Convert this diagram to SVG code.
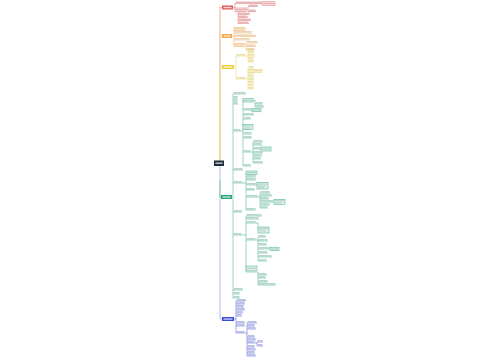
<svg xmlns="http://www.w3.org/2000/svg" width="500" height="360" viewBox="0 0 500 360">
<style>
.c{fill:none;stroke-width:.5}
.r{stroke:#e36464}.o{stroke:#f2a955}.y{stroke:#e6cf45}.g{stroke:#36ad80}.b{stroke:#4a59d4}
.tk{fill:none;stroke-width:1.2}
.tr{fill:#e2b0b0}.to{fill:#e9cfb0}.ty{fill:#e3dcae}.tg{fill:#b5d2c4}.tb{fill:#b4b8e0}.tw{fill:#ffffff;opacity:.75}
.br{fill:#fdeaea;stroke:#e36464;stroke-width:.5}
.bo{fill:#fff3e2;stroke:#f2a955;stroke-width:.5}
.by{fill:#fdf8dc;stroke:#e6cf45;stroke-width:.5}
.bg{fill:#e2f4ec;stroke:#36ad80;stroke-width:.5}
</style>
<rect width="500" height="360" fill="#ffffff"/>
<g id="connectors">
<path class="tk" stroke="#f0b8a8" d="M220 161V7.5H222"/>
<path class="tk" stroke="#f3cfa0" d="M220 161V36H222"/>
<path class="tk" stroke="#f0d9a8" d="M220 161V67H222"/>
<path class="tk" stroke="#c4c8ee" d="M220 166V319H222"/>
<path class="tk" stroke="#8fd0b4" d="M220 180V197H221"/>
<path class="c r" d="M233 7.5H235M235 3.5V10M246 9.75H248M248 6.5V11.5M238 11.5V23.5"/>
<path class="c o" d="M232 36H234M234 29V45M244 45H246M246 43V50"/>
<path class="c y" d="M234 67H236M236 56V79M246 56H248M248 50V62M246 79H248M248 68V89"/>
<path class="c g" d="M232 197H233M233 94V298"/>
<path class="c g" d="M241 131H243M243 100V166M253 100.2H255V107M251 152H253M253 142V163"/>
<path class="c g" d="M243 183H246M246 173V210M258 197H260M260 193V208"/>
<path class="c g" d="M242 235H246M246 216V272M256 223H258V230M256 240H258M258 237V261M256 272H258M258 272V285"/>
<path class="c b" d="M234 319H236M236 301V333M245 333H247M247 323V356M255 343H257M257 342V346"/>
</g>
<g id="root"><rect x="214" y="160.5" width="10" height="5.5" fill="#1f2d3d"/><rect class="tw" x="215.5" y="162.5" width="7" height="1.4"/></g>

<g id="red">
<g id="r0"><rect x="222" y="5.5" width="11" height="4" fill="#e15b5b"/><rect class="tw" x="223.5" y="6.9" width="8" height="1.3"/></g>
<g id="r1"><rect class="tr" x="235.5" y="1.6" width="26" height="1.3"/><path class="c r" d="M235 3.5h27"/></g>
<g id="r1b"><rect class="br" x="262" y="1.8" width="13" height="3.4"/><rect class="tr" x="263" y="2.8" width="11" height="1.3"/></g>
<g id="r2"><rect class="br" x="235" y="8" width="11" height="3.5"/><rect class="tr" x="236" y="9.1" width="9" height="1.3"/></g>
<g id="r2a"><rect class="tr" x="248.5" y="4.6" width="9" height="1.3"/><path class="c r" d="M248 6.5h10"/></g>
<g id="r2b"><rect class="tr" x="248.5" y="9.6" width="7" height="1.3"/><path class="c r" d="M248 11.5h8"/></g>
<g id="r2c"><rect class="tr" x="238.5" y="12.6" width="11" height="1.3"/><path class="c r" d="M238 14.5h12"/></g>
<g id="r2d"><rect class="tr" x="238.5" y="15.6" width="9" height="1.3"/><path class="c r" d="M238 17.5h10"/></g>
<g id="r2e"><rect class="tr" x="238.5" y="18.6" width="12" height="1.3"/><path class="c r" d="M238 20.5h13"/></g>
<g id="r2f"><rect class="tr" x="238.5" y="21.6" width="10" height="1.3"/><path class="c r" d="M238 23.5h11"/></g>
</g>

<g id="orange">
<g id="o0"><rect x="222" y="34" width="10" height="4" fill="#f2a54a"/><rect class="tw" x="223.5" y="35.4" width="7" height="1.3"/></g>
<g id="o1"><rect class="bo" x="234" y="27.3" width="11" height="3.5"/><rect class="to" x="235" y="28.4" width="9" height="1.3"/></g>
<g id="o2"><rect class="to" x="234.5" y="31.1" width="17" height="1.3"/><path class="c o" d="M234 33h18"/></g>
<g id="o3"><rect class="to" x="234.5" y="34.6" width="21" height="1.3"/><path class="c o" d="M234 36.5h22"/></g>
<g id="o4"><rect class="to" x="234.5" y="38.1" width="15" height="1.3"/><path class="c o" d="M234 40h16"/></g>
<g id="o5"><rect class="bo" x="234" y="43.3" width="10" height="3.5"/><rect class="to" x="235" y="44.4" width="8" height="1.3"/></g>
<g id="o5a"><rect class="to" x="246.5" y="41.1" width="11" height="1.3"/><path class="c o" d="M246 43h12"/></g>
<g id="o5b"><rect class="to" x="246.5" y="44.6" width="9" height="1.3"/><path class="c o" d="M246 46.5h10"/></g>
<g id="o5c"><rect class="to" x="246.5" y="48.1" width="8" height="1.3"/><path class="c o" d="M246 50h9"/></g>
</g>

<g id="yellow">
<g id="y0"><rect x="222" y="65" width="12" height="4" fill="#ebd040"/><rect class="tw" x="223.5" y="66.4" width="9" height="1.3"/></g>
<g id="y1"><rect class="ty" x="236.5" y="54.1" width="9" height="1.3"/><path class="c y" d="M236 56h10"/></g>
<g id="y1a"><rect class="ty" x="248.5" y="48.1" width="5" height="1.3"/><path class="c y" d="M248 50h6"/></g>
<g id="y1b"><rect class="ty" x="248.5" y="51.1" width="5" height="1.3"/><path class="c y" d="M248 53h6"/></g>
<g id="y1c"><rect class="ty" x="248.5" y="54.1" width="6" height="1.3"/><path class="c y" d="M248 56h7"/></g>
<g id="y1d"><rect class="ty" x="248.5" y="57.1" width="5" height="1.3"/><path class="c y" d="M248 59h6"/></g>
<g id="y1e"><rect class="ty" x="248.5" y="60.1" width="5" height="1.3"/><path class="c y" d="M248 62h6"/></g>
<g id="y2"><rect class="ty" x="236.5" y="77.1" width="9" height="1.3"/><path class="c y" d="M236 79h10"/></g>
<g id="y2a"><rect class="ty" x="248.5" y="66.1" width="5" height="1.3"/><path class="c y" d="M248 68h6"/></g>
<g id="y2b"><rect class="ty" x="248.5" y="69.1" width="5" height="1.3"/><path class="c y" d="M248 71h6"/></g>
<g id="y2bb"><rect class="by" x="254" y="69.3" width="8" height="3.2"/><rect class="ty" x="255" y="70.2" width="6" height="1.3"/></g>
<g id="y2c"><rect class="ty" x="248.5" y="72.1" width="5" height="1.3"/><path class="c y" d="M248 74h6"/></g>
<g id="y2d"><rect class="ty" x="248.5" y="75.1" width="5" height="1.3"/><path class="c y" d="M248 77h6"/></g>
<g id="y2e"><rect class="ty" x="248.5" y="78.1" width="5" height="1.3"/><path class="c y" d="M248 80h6"/></g>
<g id="y2f"><rect class="ty" x="248.5" y="81.1" width="5" height="1.3"/><path class="c y" d="M248 83h6"/></g>
<g id="y2g"><rect class="ty" x="248.5" y="84.1" width="5" height="1.3"/><path class="c y" d="M248 86h6"/></g>
<g id="y2h"><rect class="ty" x="248.5" y="87.1" width="5" height="1.3"/><path class="c y" d="M248 89h6"/></g>
</g>

<g id="green">
<g id="g0"><rect x="221" y="195" width="11" height="4" fill="#2aa576"/><rect class="tw" x="222.5" y="196.4" width="8" height="1.3"/></g>
<g id="ga"><rect class="tg" x="233.5" y="92.1" width="12" height="1.3"/><path class="c g" d="M233 94h13"/></g>
<g id="gb"><rect class="tg" x="233.5" y="96.1" width="4" height="1.3"/><path class="c g" d="M233 98h5"/></g>
<g id="gc"><rect class="tg" x="233.5" y="99.1" width="4" height="1.3"/><path class="c g" d="M233 101h5"/></g>
<g id="gd"><rect class="tg" x="233.5" y="102.1" width="4" height="1.3"/><path class="c g" d="M233 104h5"/></g>
<g id="ge"><rect class="tg" x="233.5" y="129.1" width="7" height="1.3"/><path class="c g" d="M233 131h8"/></g>
<g id="gf"><rect class="tg" x="233.5" y="168.1" width="9" height="1.3"/><path class="c g" d="M233 170h10"/></g>
<g id="gg"><rect class="tg" x="233.5" y="181.1" width="9" height="1.3"/><path class="c g" d="M233 183h10"/></g>
<g id="gh"><rect class="tg" x="233.5" y="210.1" width="8" height="1.3"/><path class="c g" d="M233 212h9"/></g>
<g id="gi"><rect class="tg" x="233.5" y="233.1" width="8" height="1.3"/><path class="c g" d="M233 235h9"/></g>
<g id="gj"><rect class="tg" x="233.5" y="288.1" width="9" height="1.3"/><path class="c g" d="M233 290h10"/></g>
<g id="gk"><rect class="tg" x="233.5" y="292.1" width="6" height="1.3"/><path class="c g" d="M233 294h7"/></g>
<g id="gl"><rect class="tg" x="233.5" y="296.1" width="6" height="1.3"/><path class="c g" d="M233 298h7"/></g>
<g id="s1a"><rect class="bg" x="243" y="98.5" width="10" height="3.5"/><rect class="tg" x="244" y="99.6" width="8" height="1.3"/></g>
<g id="s1a1"><rect class="tg" x="255.5" y="102.1" width="7" height="1.3"/><path class="c g" d="M255 104h8"/></g>
<g id="s1a2"><rect class="tg" x="255.5" y="105.1" width="8" height="1.3"/><path class="c g" d="M255 107h9"/></g>
<g id="s1b"><rect class="tg" x="243.5" y="108.1" width="8" height="1.3"/><path class="c g" d="M243 110h9"/></g>
<g id="s1bb"><rect class="bg" x="252" y="108.3" width="9" height="3.5"/><rect class="tg" x="253" y="109.4" width="7" height="1.3"/></g>
<g id="s1c"><rect class="tg" x="243.5" y="113.1" width="10" height="1.3"/><path class="c g" d="M243 115h11"/></g>
<g id="s1d"><rect class="tg" x="243.5" y="117.1" width="7" height="1.3"/><path class="c g" d="M243 119h8"/></g>
<g id="s1e"><rect class="bg" x="243" y="124.5" width="10" height="5"/><rect class="tg" x="244" y="125.5" width="8" height="1.2"/><rect class="tg" x="244" y="127.5" width="6" height="1.2"/></g>
<g id="s1f"><rect class="tg" x="243.5" y="132.1" width="8" height="1.3"/><path class="c g" d="M243 134h9"/></g>
<g id="s1g"><rect class="tg" x="243.5" y="136.1" width="8" height="1.3"/><path class="c g" d="M243 138h9"/></g>
<g id="s1h"><rect class="tg" x="243.5" y="150.1" width="7" height="1.3"/><path class="c g" d="M243 152h8"/></g>
<g id="s1h1"><rect class="tg" x="253.5" y="140.1" width="9" height="1.3"/><path class="c g" d="M253 142h10"/></g>
<g id="s1h2"><rect class="tg" x="253.5" y="143.1" width="8" height="1.3"/><path class="c g" d="M253 145h9"/></g>
<g id="s1h3"><rect class="tg" x="253.5" y="147.1" width="7" height="1.3"/><path class="c g" d="M253 149h8"/></g>
<g id="s1h3b"><rect class="bg" x="261" y="147" width="10" height="4"/><rect class="tg" x="262" y="148.3" width="8" height="1.3"/></g>
<g id="s1h4"><rect class="tg" x="253.5" y="151.1" width="9" height="1.3"/><path class="c g" d="M253 153h10"/></g>
<g id="s1h5"><rect class="tg" x="253.5" y="154.1" width="8" height="1.3"/><path class="c g" d="M253 156h9"/></g>
<g id="s1h6"><rect class="tg" x="253.5" y="157.1" width="7" height="1.3"/><path class="c g" d="M253 159h8"/></g>
<g id="s1h7"><rect class="tg" x="253.5" y="161.1" width="9" height="1.3"/><path class="c g" d="M253 163h10"/></g>
<g id="s1i"><rect class="tg" x="243.5" y="164.1" width="7" height="1.3"/><path class="c g" d="M243 166h8"/></g>
<g id="s2a"><rect class="bg" x="246" y="171" width="11" height="3.5"/><rect class="tg" x="247" y="172.1" width="9" height="1.3"/></g>
<g id="s2b"><rect class="tg" x="246.5" y="175.1" width="9" height="1.3"/><path class="c g" d="M246 177h10"/></g>
<g id="s2c"><rect class="tg" x="246.5" y="178.1" width="9" height="1.3"/><path class="c g" d="M246 180h10"/></g>
<g id="s2d"><rect class="tg" x="246.5" y="183.1" width="10" height="1.3"/><path class="c g" d="M246 185h11"/></g>
<g id="s2db"><rect class="bg" x="257" y="182.5" width="11" height="6.5"/><rect class="tg" x="258" y="183.5" width="9" height="1.2"/><rect class="tg" x="258" y="185.5" width="8" height="1.2"/><rect class="tg" x="258" y="187.3" width="6" height="1.2"/></g>
<g id="s2e"><rect class="tg" x="246.5" y="188.1" width="8" height="1.3"/><path class="c g" d="M246 190h9"/></g>
<g id="s2f"><rect class="tg" x="246.5" y="195.1" width="11" height="1.3"/><path class="c g" d="M246 197h12"/></g>
<g id="s2f1"><rect class="tg" x="260.5" y="191.1" width="9" height="1.3"/><path class="c g" d="M260 193h10"/></g>
<g id="s2f2"><rect class="tg" x="260.5" y="194.1" width="11" height="1.3"/><path class="c g" d="M260 196h12"/></g>
<g id="s2f3"><rect class="tg" x="260.5" y="197.1" width="8" height="1.3"/><path class="c g" d="M260 199h9"/></g>
<g id="s2f4"><rect class="tg" x="260.5" y="200.1" width="13" height="1.3"/><path class="c g" d="M260 202h14"/></g>
<g id="s2f4b"><rect class="bg" x="274" y="199.3" width="11" height="5"/><rect class="tg" x="275" y="200.3" width="9" height="1.2"/><rect class="tg" x="275" y="202.3" width="7" height="1.2"/></g>
<g id="s2f5"><rect class="tg" x="260.5" y="203.1" width="9" height="1.3"/><path class="c g" d="M260 205h10"/></g>
<g id="s2f6"><rect class="tg" x="260.5" y="206.1" width="7" height="1.3"/><path class="c g" d="M260 208h8"/></g>
<g id="s2g"><rect class="tg" x="246.5" y="208.1" width="9" height="1.3"/><path class="c g" d="M246 210h10"/></g>
<g id="s3a"><rect class="tg" x="246.5" y="214.1" width="15" height="1.3"/><path class="c g" d="M246 216h16"/></g>
<g id="s3b"><rect class="tg" x="246.5" y="217.1" width="12" height="1.3"/><path class="c g" d="M246 219h13"/></g>
<g id="s3c"><rect class="tg" x="246.5" y="221.1" width="9" height="1.3"/><path class="c g" d="M246 223h10"/></g>
<g id="s3cb"><rect class="bg" x="258" y="227" width="11" height="6"/><rect class="tg" x="259" y="228" width="9" height="1.2"/><rect class="tg" x="259" y="230.2" width="7" height="1.2"/></g>
<g id="s3d"><rect class="tg" x="246.5" y="238.1" width="9" height="1.3"/><path class="c g" d="M246 240h10"/></g>
<g id="s3d1"><rect class="tg" x="258.5" y="235.1" width="7" height="1.3"/><path class="c g" d="M258 237h8"/></g>
<g id="s3d2"><rect class="tg" x="258.5" y="239.1" width="9" height="1.3"/><path class="c g" d="M258 241h10"/></g>
<g id="s3d3"><rect class="tg" x="258.5" y="243.1" width="8" height="1.3"/><path class="c g" d="M258 245h9"/></g>
<g id="s3d4"><rect class="tg" x="258.5" y="247.1" width="11" height="1.3"/><path class="c g" d="M258 249h12"/></g>
<g id="s3d4b"><rect class="bg" x="270" y="247.2" width="9" height="3.5"/><rect class="tg" x="271" y="248.3" width="7" height="1.3"/></g>
<g id="s3d5"><rect class="tg" x="258.5" y="251.1" width="9" height="1.3"/><path class="c g" d="M258 253h10"/></g>
<g id="s3d6"><rect class="tg" x="258.5" y="255.1" width="13" height="1.3"/><path class="c g" d="M258 257h14"/></g>
<g id="s3d7"><rect class="tg" x="258.5" y="259.1" width="8" height="1.3"/><path class="c g" d="M258 261h9"/></g>
<g id="s3e"><rect class="bg" x="246" y="266" width="11" height="4.5"/><rect class="tg" x="247" y="267.6" width="9" height="1.3"/></g>
<g id="s3f"><rect class="tg" x="246.5" y="270.1" width="9" height="1.3"/><path class="c g" d="M246 272h10"/></g>
<g id="s3f1"><rect class="tg" x="258.5" y="273.1" width="8" height="1.3"/><path class="c g" d="M258 275h9"/></g>
<g id="s3f2"><rect class="tg" x="258.5" y="276.1" width="7" height="1.3"/><path class="c g" d="M258 278h8"/></g>
<g id="s3f3"><rect class="tg" x="258.5" y="280.1" width="9" height="1.3"/><path class="c g" d="M258 282h10"/></g>
<g id="s3f4"><rect class="tg" x="258.5" y="283.1" width="17" height="1.3"/><path class="c g" d="M258 285h18"/></g>
</g>

<g id="blue">
<g id="b0"><rect x="222" y="317" width="12" height="4" fill="#3b4bd0"/><rect class="tw" x="223.5" y="318.4" width="9" height="1.3"/></g>
<g id="ba1"><rect class="tb" x="236.5" y="299.1" width="9" height="1.3"/><path class="c b" d="M236 301h10"/></g>
<g id="ba2"><rect class="tb" x="236.5" y="302.1" width="8" height="1.3"/><path class="c b" d="M236 304h9"/></g>
<g id="ba3"><rect class="tb" x="236.5" y="305.1" width="7" height="1.3"/><path class="c b" d="M236 307h8"/></g>
<g id="ba4"><rect class="tb" x="236.5" y="308.1" width="8" height="1.3"/><path class="c b" d="M236 310h9"/></g>
<g id="ba5"><rect class="tb" x="236.5" y="311.1" width="6" height="1.3"/><path class="c b" d="M236 313h7"/></g>
<g id="ba6"><rect class="tb" x="236.5" y="314.1" width="5" height="1.3"/><path class="c b" d="M236 316h6"/></g>
<g id="bb1"><rect class="tb" x="236.5" y="321.1" width="8" height="1.3"/><path class="c b" d="M236 323h9"/></g>
<g id="bb2"><rect class="tb" x="236.5" y="324.1" width="8" height="1.3"/><path class="c b" d="M236 326h9"/></g>
<g id="bc"><rect class="tb" x="236.5" y="331.1" width="8" height="1.3"/><path class="c b" d="M236 333h9"/></g>
<g id="bc1"><rect class="tb" x="247.5" y="321.1" width="9" height="1.3"/><path class="c b" d="M247 323h10"/></g>
<g id="bc2"><rect class="tb" x="247.5" y="324.1" width="7" height="1.3"/><path class="c b" d="M247 326h8"/></g>
<g id="bc3"><rect class="tb" x="247.5" y="327.1" width="8" height="1.3"/><path class="c b" d="M247 329h9"/></g>
<g id="bc4"><rect class="tb" x="247.5" y="335.1" width="7" height="1.3"/><path class="c b" d="M247 337h8"/></g>
<g id="bc5"><rect class="tb" x="247.5" y="338.1" width="8" height="1.3"/><path class="c b" d="M247 340h9"/></g>
<g id="bc6"><rect class="tb" x="247.5" y="341.1" width="7" height="1.3"/><path class="c b" d="M247 343h8"/></g>
<g id="bc6a"><rect class="tb" x="257.5" y="340.1" width="5" height="1.3"/><path class="c b" d="M257 342h6"/></g>
<g id="bc6b"><rect class="tb" x="257.5" y="344.1" width="5" height="1.3"/><path class="c b" d="M257 346h6"/></g>
<g id="bc7"><rect class="tb" x="247.5" y="345.1" width="7" height="1.3"/><path class="c b" d="M247 347h8"/></g>
<g id="bc8"><rect class="tb" x="247.5" y="348.1" width="8" height="1.3"/><path class="c b" d="M247 350h9"/></g>
<g id="bc9"><rect class="tb" x="247.5" y="351.1" width="7" height="1.3"/><path class="c b" d="M247 353h8"/></g>
<g id="bc10"><rect class="tb" x="247.5" y="354.1" width="8" height="1.3"/><path class="c b" d="M247 356h9"/></g>
</g>
</svg>
